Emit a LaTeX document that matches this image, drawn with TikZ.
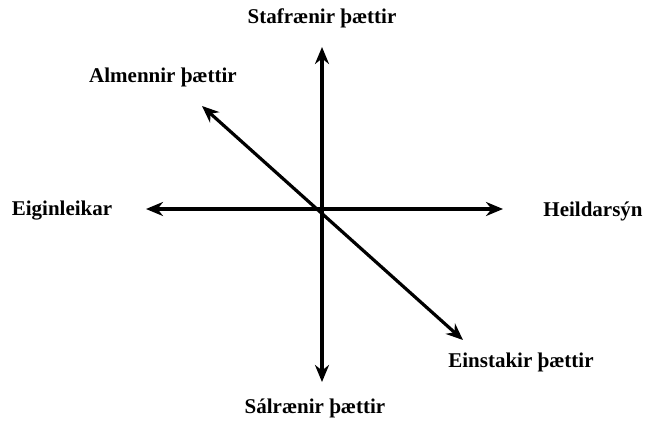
\documentclass[tikz,border=0pt]{standalone}
\usepackage{fontspec}
\setmainfont{Liberation Serif}
\usetikzlibrary{arrows.meta}

\begin{document}
\begin{tikzpicture}[x=1pt,y=-1pt,>={Stealth[length=17pt,width=14pt]}, axis/.style={<->, line width=3.2pt}, lbl/.style={font=\bfseries\fontsize{21}{23}\selectfont, inner sep=1pt}]
        \useasboundingbox (0,0) rectangle (647,423);
        % ends of the axes
        \coordinate (top) at (322,47);
        \coordinate (bottom) at (322,382);
        \coordinate (west) at (146,209);
        \coordinate (east) at (503,209);
        \coordinate (nw) at (202,106);
        \coordinate (se) at (463,340);
        % labels
        \node[lbl] (stafr) at (322,18) {Stafrænir þættir};
        \node[lbl] (salr) at (315,408) {Sálrænir þættir};
        \node[lbl] (eigin) at (62,211) {Eiginleikar};
        \node[lbl] (heild) at (593,211) {Heildarsýn};
        \node[lbl] (almen) at (163,77) {Almennir þættir};
        \node[lbl] (einst) at (521,362) {Einstakir þættir};
        \draw[axis] (bottom) -- (top);
        \draw[axis] (west) -- (east);
        \draw[axis] (se) -- (nw);
      \end{tikzpicture}
\end{document}
